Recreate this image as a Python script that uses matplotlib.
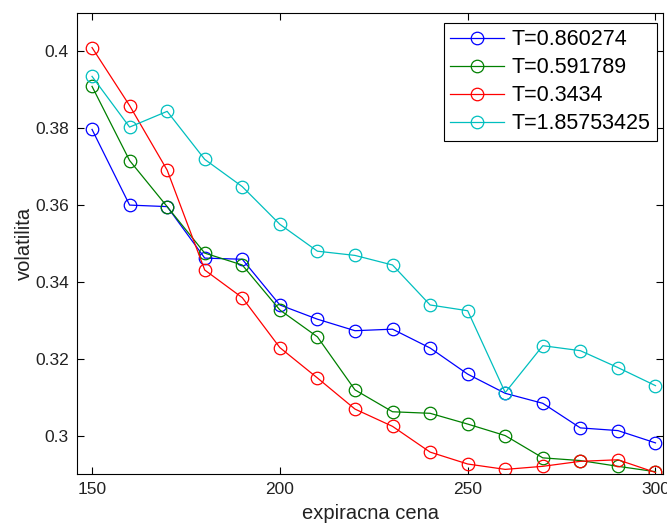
import numpy as np
import matplotlib
matplotlib.use('Agg')
from matplotlib import pyplot as plt

plt.rcParams['font.family'] = ['Liberation Sans', 'DejaVu Sans']

# strike prices and volatilities for each maturity
strike = [150, 160, 170, 180, 190, 200, 210, 220, 230, 240, 250, 260, 270, 280, 290, 300]
vol_t1 = [0.3797, 0.3600, 0.3596, 0.3462, 0.3459, 0.3340, 0.3303, 0.3273,
          0.3277, 0.3228, 0.3160, 0.3110, 0.3084, 0.3020, 0.3013, 0.2981]
vol_t2 = [0.3909, 0.3716, 0.3596, 0.3475, 0.3444, 0.3327, 0.3257, 0.3119,
          0.3062, 0.3058, 0.3030, 0.3000, 0.2942, 0.2935, 0.2920, 0.2906]
vol_t3 = [0.4010, 0.3859, 0.3691, 0.3431, 0.3359, 0.3229, 0.3150, 0.3069,
          0.3024, 0.2957, 0.2926, 0.2912, 0.2920, 0.2933, 0.2937, 0.2904]
vol_t4 = [0.3935, 0.3803, 0.3844, 0.3719, 0.3648, 0.3550, 0.3480, 0.3469,
          0.3444, 0.3340, 0.3325, 0.3112, 0.3234, 0.3221, 0.3177, 0.3130]
labels = ['T=0.860274', 'T=0.591789', 'T=0.3434', 'T=1.85753425']
colors = ['#0000ff', '#008000', '#ff0000', '#00bfbf']

fig = plt.figure(figsize=(6.67, 5.26), dpi=100)
ax = fig.add_axes([77 / 667, 52 / 526, 586 / 667, 461 / 526])

for vals, lab, col in zip([vol_t1, vol_t2, vol_t3, vol_t4], labels, colors):
    ax.plot(strike, vals, color=col, lw=0.9, marker='o', ms=9,
            mfc='none', mec=col, mew=0.9, label=lab)

ax.set_xlim(146, 302)
ax.set_ylim(0.29, 0.41)
ax.set_xticks([150, 200, 250, 300])
ax.set_yticks([0.3, 0.32, 0.34, 0.36, 0.38, 0.4])
ax.set_yticklabels(['0.3', '0.32', '0.34', '0.36', '0.38', '0.4'])
ax.tick_params(direction='in', top=True, right=True, length=5, width=0.8,
               labelsize=12.5, labelcolor='#222222', pad=6)
for s in ax.spines.values():
    s.set_linewidth(0.8)

ax.set_xlabel('expiracna cena', fontsize=14.5, color='#222222', labelpad=5)
ax.set_ylabel('volatilita', fontsize=14.5, color='#222222', labelpad=1)

leg = ax.legend(loc='upper right', bbox_to_anchor=(0.9898, 0.9783),
                fontsize=15.5, fancybox=False, framealpha=1,
                edgecolor='black', borderaxespad=0, handlelength=2.5,
                labelspacing=0.32, borderpad=0.3, handletextpad=0.35)
leg.get_frame().set_linewidth(0.8)

fig.savefig('out.png', dpi=100)
